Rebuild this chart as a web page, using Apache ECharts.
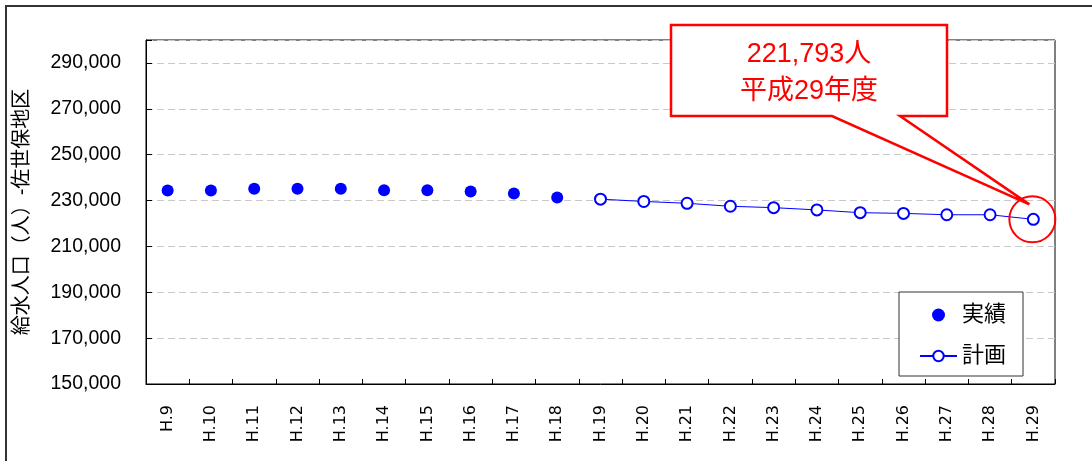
<!DOCTYPE html>
<html><head><meta charset="utf-8">
<script src="https://cdn.jsdelivr.net/npm/echarts@6/dist/echarts.min.js"></script>
<style>html,body{margin:0;padding:0;background:#fff}#c{width:1092px;height:461px}</style>
</head><body><div id="c"></div>
<script>
const categories = ['H.9','H.10','H.11','H.12','H.13','H.14','H.15','H.16','H.17','H.18','H.19','H.20','H.21','H.22','H.23','H.24','H.25','H.26','H.27','H.28','H.29'];
const actualValues = [234400,234400,235100,235100,235100,234500,234500,233900,233100,231300,null,null,null,null,null,null,null,null,null,null,null];
const planValues = [null,null,null,null,null,null,null,null,null,null,230600,229600,228800,227500,226900,225900,224700,224400,223800,223800,221793];
const yMin = 150000, yMax = 300000, yStep = 20000;
const seriesNames = ['実績','計画'];
const yAxisName = '給水人口（人）-佐世保地区';

const FONT = "'Liberation Sans','Noto Sans CJK JP',sans-serif";
const chart = echarts.init(document.getElementById('c'), null, {renderer:'canvas'});
chart.setOption({
  animation:false,
  backgroundColor:'#fff',
  grid:{left:146,top:40,right:37,bottom:77,show:true,borderColor:'#000',borderWidth:1,containLabel:false},
  legend:{
    orient:'vertical', left:899, top:292,
    padding:[10,17,7,20], itemGap:15, itemWidth:37, itemHeight:13,
    backgroundColor:'#fff', borderColor:'#333', borderWidth:1,
    textStyle:{fontFamily:FONT,fontSize:22,color:'#000',lineHeight:26},
    data:[{name:seriesNames[0],icon:'circle'},{name:seriesNames[1]}]
  },
  xAxis:{
    type:'category', data:categories, boundaryGap:true,
    axisLine:{lineStyle:{color:'#000',width:1}},
    axisTick:{show:true,inside:true,length:5,lineStyle:{color:'#000'}},
    axisLabel:{rotate:90,margin:21,fontFamily:"'DejaVu Sans',sans-serif",fontSize:16,color:'#000',interval:0},
    splitLine:{show:false}
  },
  yAxis:{
    type:'value', min:yMin, max:yMax, interval:yStep,
    name:yAxisName, nameLocation:'middle', nameRotate:90, nameGap:114,
    nameTextStyle:{fontFamily:FONT,fontSize:20,color:'#000'},
    axisLine:{show:true,lineStyle:{color:'#000',width:1}},
    axisTick:{show:true,inside:true,length:6,lineStyle:{color:'#000'}},
    axisLabel:{margin:25,fontFamily:FONT,fontSize:19.5,color:'#000',
      formatter:function(v){ return v>=yMax ? '' : v.toLocaleString('en-US'); }},
    splitLine:{show:true,lineStyle:{color:'#c8c8c8',type:[7,4],width:1}}
  },
  series:[
    {name:seriesNames[0],type:'scatter',data:actualValues,symbol:'circle',symbolSize:12,
     itemStyle:{color:'#0000ff',opacity:1},z:3},
    {name:seriesNames[1],type:'line',data:planValues,symbol:'emptyCircle',symbolSize:11,
     showAllSymbol:true,connectNulls:false,
     lineStyle:{color:'#0000ff',width:1},itemStyle:{color:'#0000ff',borderColor:'#0000ff',borderWidth:1.2},z:3}
  ]
});

const lastIdx = planValues.length-1;
const p = chart.convertToPixel({gridIndex:0},[categories[lastIdx],planValues[lastIdx]]);
const line1 = planValues[lastIdx].toLocaleString('en-US') + '人';
const line2 = '平成' + categories[lastIdx].replace('H.','') + '年度';
const bx0=671, bx1=947, by0=25, by1=116, cx=(bx0+bx1)/2;
const tip=[p[0]-4,p[1]-15];
chart.setOption({graphic:[
  {type:'rect',shape:{x:6,y:6,width:1100,height:470},style:{fill:'none',stroke:'#333',lineWidth:2},z:1,silent:true},
  {type:'polygon',shape:{points:[[bx0,by0],[bx1,by0],[bx1,by1],[900,by1],tip,[832,by1],[bx0,by1]]},
   style:{fill:'#fff',stroke:'#ff0000',lineWidth:2.5},z:50,silent:true},
  {type:'circle',shape:{cx:p[0]-1,cy:p[1],r:23},style:{fill:'none',stroke:'#ff0000',lineWidth:2},z:51,silent:true},
  {type:'text',x:cx,y:55,style:{text:line1,fill:'#ff0000',fontSize:27,fontFamily:FONT,align:'center',verticalAlign:'middle',textAlign:'center',textVerticalAlign:'middle'},z:52,silent:true},
  {type:'text',x:cx,y:92,style:{text:line2,fill:'#ff0000',fontSize:27,fontFamily:FONT,align:'center',verticalAlign:'middle',textAlign:'center',textVerticalAlign:'middle'},z:52,silent:true}
]});
</script></body></html>
